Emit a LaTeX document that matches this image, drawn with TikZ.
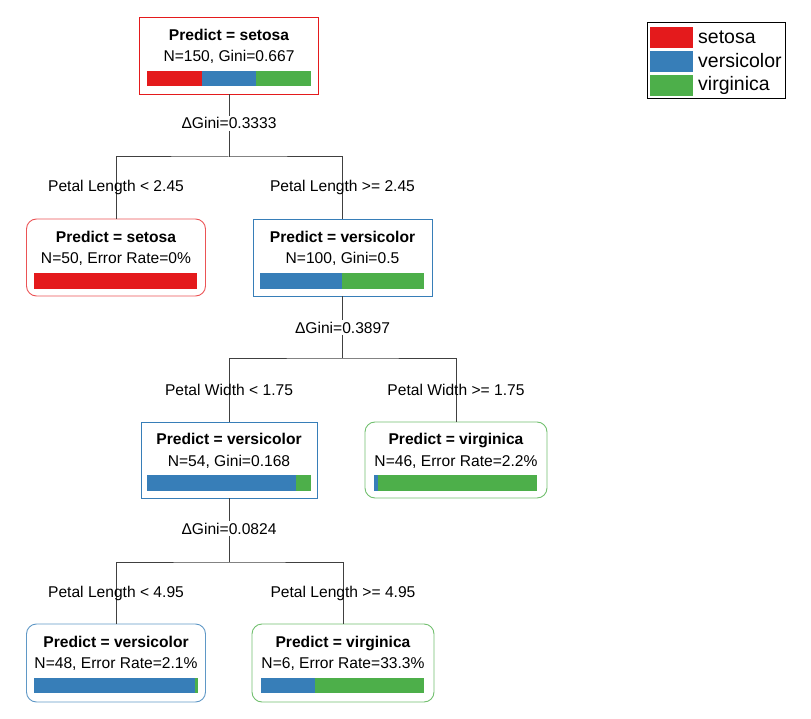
\documentclass[tikz,border=0pt]{standalone}
\usepackage{fontspec}
\setmainfont{Liberation Sans}
\definecolor{cR}{HTML}{E41A1C}
\definecolor{cB}{HTML}{377EB8}
\definecolor{cG}{HTML}{4DAF4A}
\definecolor{lineC}{HTML}{404040}
\begin{document}
\begin{tikzpicture}[x=1pt,y=-1pt,
  box/.style={draw, line width=0.9pt, inner sep=0pt, minimum height=77pt},
  leaf/.style={box, rounded corners=10pt},
  txt/.style={inner sep=0pt, anchor=base, font=\fontsize{15.6}{18}\selectfont},
  ttl/.style={txt, font=\fontsize{15.6}{18}\selectfont\bfseries},
  dgl/.style={txt, fill=white, inner xsep=0pt, inner ysep=1.5pt},
  conn/.style={draw=lineC, line width=1pt},
  leg/.style={inner sep=0pt, anchor=base west, font=\fontsize{19.5}{22}\selectfont}]
\useasboundingbox (0,0) rectangle (811,719);

% ---------- boxes ----------
\node[box, draw=cR, minimum width=179pt] (root) at (229,55.5) {};
\node[leaf, draw=cR!75, minimum width=179pt] (leafA) at (116,257.5) {};
\node[box, draw=cB, minimum width=179pt] (nB) at (342.5,257.5) {};
\node[box, draw=cB, minimum width=176pt, minimum height=76pt] (nC) at (229,460) {};
\node[leaf, draw=cG!80, minimum width=182pt, minimum height=76pt] (leafD) at (456,460) {};
\node[leaf, draw=cB!80, minimum width=179pt, minimum height=78pt] (leafE) at (116,663) {};
\node[leaf, draw=cG!80, minimum width=182pt, minimum height=78pt] (leafF) at (343,663) {};

% ---------- box texts ----------
\node[ttl] (rootT) at (229,40.5) {Predict = setosa};
\node[txt] (rootN) at (229,61.5) {N=150, Gini=0.667};
\node[ttl] (leafAT) at (116,242.5) {Predict = setosa};
\node[txt] (leafAN) at (116,263.5) {N=50, Error Rate=0\%};
\node[ttl] (nBT) at (342.5,242.5) {Predict = versicolor};
\node[txt] (nBN) at (342.5,263.5) {N=100, Gini=0.5};
\node[ttl] (nCT) at (229,444) {Predict = versicolor};
\node[txt] (nCN) at (229,466.5) {N=54, Gini=0.168};
\node[ttl] (leafDT) at (456,444) {Predict = virginica};
\node[txt] (leafDN) at (456,466.5) {N=46, Error Rate=2.2\%};
\node[ttl] (leafET) at (116,647) {Predict = versicolor};
\node[txt] (leafEN) at (116,668.5) {N=48, Error Rate=2.1\%};
\node[ttl] (leafFT) at (343,647) {Predict = virginica};
\node[txt] (leafFN) at (343,668.5) {N=6, Error Rate=33.3\%};

% ---------- bars ----------
\fill[cR] (147,71) rectangle (202,86);
\fill[cB] (202,71) rectangle (256,86);
\fill[cG] (256,71) rectangle (311,86);
\fill[cR] (34,273) rectangle (197,289);
\fill[cB] (260,273) rectangle (342,289);
\fill[cG] (342,273) rectangle (424,289);
\fill[cB] (147,475) rectangle (296,491);
\fill[cG] (296,475) rectangle (311,491);
\fill[cB] (374,475) rectangle (377.5,491);
\fill[cG] (377.5,475) rectangle (537,491);
\fill[cB] (34,678) rectangle (194.5,693);
\fill[cG] (194.5,678) rectangle (198,693);
\fill[cB] (261,678) rectangle (315,693);
\fill[cG] (315,678) rectangle (424,693);

% ---------- split labels and connectors ----------
\coordinate (j1) at (229,157);
\coordinate (j2) at (342.5,358);
\coordinate (j3) at (229,562);

\node[dgl] (dg1) at (229,129) {ΔGini=0.3333};
\node[dgl] (dg2) at (342.5,333) {ΔGini=0.3897};
\node[dgl] (dg3) at (229,534) {ΔGini=0.0824};

\draw[conn] (root.south) -- (dg1.north);
\draw[conn] (dg1.south) -- (j1);
\draw[conn] (leafA.north) |- (j1) -| (nB.north);

\draw[conn] (nB.south) -- (dg2.north);
\draw[conn] (dg2.south) -- (j2);
\draw[conn] (nC.north) |- (j2) -| (leafD.north);

\draw[conn] (nC.south) -- (dg3.north);
\draw[conn] (dg3.south) -- (j3);
\draw[conn] (leafE.north) |- (j3) -| (leafF.north);

\node[txt] (pl1) at (116,192) {Petal Length < 2.45};
\node[txt] (pr1) at (342.5,192) {Petal Length >= 2.45};
\node[txt] (pl2) at (229,395.5) {Petal Width < 1.75};
\node[txt] (pr2) at (456,395.5) {Petal Width >= 1.75};
\node[txt] (pl3) at (116,597) {Petal Length < 4.95};
\node[txt] (pr3) at (343,597) {Petal Length >= 4.95};

% ---------- legend ----------
\node[draw, line width=1pt, inner sep=0pt, minimum width=138pt, minimum height=76pt] (legend) at (716,61) {};
\fill[cR] (650,27) rectangle (693,48);
\fill[cB] (650,51) rectangle (693,72);
\fill[cG] (650,75) rectangle (693,96);
\node[leg] (legR) at (698,44) {setosa};
\node[leg] (legB) at (698,67.5) {versicolor};
\node[leg] (legG) at (698,91) {virginica};
\end{tikzpicture}
\end{document}
